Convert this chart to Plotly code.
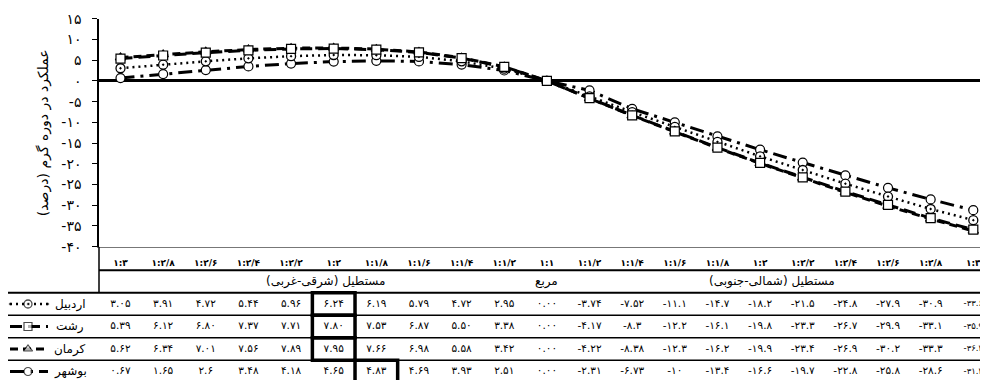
import plotly.graph_objects as go

# ---------------- data ----------------
categories = ["1:3", "1:2/8", "1:2/6", "1:2/4", "1:2/2", "1:2", "1:1/8", "1:1/6", "1:1/4", "1:1/2",
              "1:1",
              "1:1/2", "1:1/4", "1:1/6", "1:1/8", "1:2", "1:2/2", "1:2/4", "1:2/6", "1:2/8", "1:3"]

cities = ["اردبیل", "رشت", "کرمان", "بوشهر"]

ardabil = ["3.05", "3.91", "4.72", "5.44", "5.96", "6.24", "6.19", "5.79", "4.72", "2.95", "0.00",
           "-3.74", "-7.52", "-11.1", "-14.7", "-18.2", "-21.5", "-24.8", "-27.9", "-30.9", "-33.6"]
rasht = ["5.39", "6.12", "6.80", "7.37", "7.71", "7.80", "7.53", "6.87", "5.50", "3.38", "0.00",
         "-4.17", "-8.3", "-12.2", "-16.1", "-19.8", "-23.3", "-26.7", "-29.9", "-33.1", "-35.9"]
kerman = ["5.62", "6.34", "7.01", "7.56", "7.89", "7.95", "7.66", "6.98", "5.58", "3.42", "0.00",
          "-4.22", "-8.38", "-12.3", "-16.2", "-19.9", "-23.4", "-26.9", "-30.2", "-33.3", "-36.2"]
bushehr = ["0.67", "1.65", "2.6", "3.48", "4.18", "4.65", "4.83", "4.69", "3.93", "2.51", "0.00",
           "-2.31", "-6.73", "-10", "-13.4", "-16.6", "-19.7", "-22.8", "-25.8", "-28.6", "-31.2"]

groups = ["مستطیل (شرقی-غربی)", "مربع", "مستطیل (شمالی-جنوبی)"]

y_ticks = [15, 10, 5, 0, -5, -10, -15, -20, -25, -30, -35, -40]
y_title = "عملکرد در دوره گرم (درصد)"

# ---------------- helpers ----------------
FA = str.maketrans("0123456789", "۰۱۲۳۴۵۶۷۸۹")
RLM = "\u200f"


def fa(s):
    return str(s).translate(FA)


FONT = "DejaVu Sans"
OFF = 8                               # page body margin
W, H = 988 - OFF, 380 - OFF
x0_px, step_px = 120.5 - OFF, 42.64   # category centre / spacing in pixels (figure coords)
plot_top, plot_bot = 18.7 - OFF, 246.7 - OFF
row0_px, row_h = 304.0 - OFF, 22.5
axis_px = 99 - OFF


def px2x(p):
    return (p - OFF - x0_px) / step_px   # p given in page pixels


main_range = [(axis_px - x0_px) / step_px, (W - x0_px) / step_px]
tab_range = [(0 - x0_px) / step_px, (W - x0_px) / step_px]
tab_y_range = [(H - row0_px) / row_h, (plot_bot - row0_px) / row_h]

series = [
    dict(name=cities[0], vals=ardabil, dash="2px,4px", width=2.5,
         marker=dict(symbol="circle-dot", size=9, color="white", line=dict(color="black", width=1.3))),
    dict(name=cities[1], vals=rasht, dash="12px,6px", width=3,
         marker=dict(symbol="square", size=9, color="white", line=dict(color="black", width=1.2))),
    dict(name=cities[2], vals=kerman, dash="8px,5px", width=3,
         marker=dict(symbol="triangle-up", size=9, color="white", line=dict(color="black", width=1.2))),
    dict(name=cities[3], vals=bushehr, dash="14px,6px,3px,6px", width=3,
         marker=dict(symbol="circle", size=9, color="white", line=dict(color="black", width=1.2))),
]

xs = list(range(len(categories)))
fig = go.Figure()

# ---------------- chart lines ----------------
for s in [series[3], series[0], series[2], series[1]]:
    fig.add_trace(go.Scatter(
        x=xs, y=[float(v) for v in s["vals"]], mode="lines+markers",
        line=dict(color="black", width=s["width"], dash=s["dash"]),
        marker=s["marker"], cliponaxis=False, showlegend=False,
        xaxis="x", yaxis="y"))

# ---------------- table ----------------
# the last column sits at the page edge, so its text is set a little smaller to stay visible
cell_sizes = [10.5] * (len(xs) - 1) + [8.5]
for r, s in enumerate(series):
    fig.add_trace(go.Scatter(
        x=xs, y=[r] * len(xs), mode="text", text=[fa(v) for v in s["vals"]],
        textfont=dict(family=FONT, size=cell_sizes, color="black"),
        textposition="middle center", showlegend=False, cliponaxis=False,
        xaxis="x2", yaxis="y2"))
    # legend key
    kx = [px2x(10), px2x(28), px2x(48)]
    m = dict(s["marker"])
    m["size"] = [0, 8, 0]
    fig.add_trace(go.Scatter(
        x=kx, y=[r] * 3, mode="lines+markers",
        line=dict(color="black", width=s["width"], dash=s["dash"]),
        marker=m, showlegend=False, cliponaxis=False, xaxis="x2", yaxis="y2"))

annotations = []
for r, c in enumerate(cities):
    annotations.append(dict(x=px2x(70), y=r, xref="x2", yref="y2", text=c,
                            showarrow=False, font=dict(family=FONT, size=12, color="black")))
for g, gx in zip(groups, [4.8, 10, 15.27]):
    annotations.append(dict(x=gx, y=-1, xref="x2", yref="y2", text=g + RLM,
                            showarrow=False, font=dict(family=FONT, size=12, color="black")))
annotations.append(dict(x=(33 - OFF) / W, y=0.5, xref="paper", yref="y domain", text=y_title + RLM,
                        textangle=-90, showarrow=False, font=dict(family=FONT, size=14, color="black")))

shapes = []
# vertical extension of the value axis into the table
shapes.append(dict(type="line", xref="x domain", yref="y2", x0=0, x1=0, y0=tab_y_range[1], y1=-0.5,
                   line=dict(color="black", width=1.5)))
# line under category labels
shapes.append(dict(type="line", xref="x domain", yref="y2", x0=0, x1=1, y0=-1.5, y1=-1.5,
                   line=dict(color="black", width=2)))
# row separators
for yy, wdt in [(-0.5, 2), (0.5, 1.5), (1.5, 1.5), (2.5, 1.5)]:
    shapes.append(dict(type="line", xref="paper", yref="y2", x0=0, x1=1, y0=yy, y1=yy,
                       line=dict(color="black", width=wdt)))
# boxes around each row's maximum
for r, s in enumerate(series):
    v = [float(t) for t in s["vals"]]
    c = v.index(max(v))
    shapes.append(dict(type="rect", xref="x2", yref="y2", x0=c - 0.5, x1=c + 0.5,
                       y0=r - 0.5, y1=r + 0.5, line=dict(color="black", width=3.5)))

fig.update_layout(
    width=W, height=H, margin=dict(l=0, r=0, t=0, b=0),
    template="none", plot_bgcolor="white", paper_bgcolor="white",
    showlegend=False,
    xaxis=dict(domain=[axis_px / W, 1], range=main_range, tickmode="array", tickvals=xs,
               ticktext=[fa(c) for c in categories], ticks="", showgrid=False, zeroline=False,
               showline=True, linecolor="#777", linewidth=1, automargin=False,
               tickfont=dict(family=FONT, size=9, color="black", weight="bold"),
               ticklabelstandoff=7),
    yaxis=dict(domain=[1 - plot_bot / H, 1 - plot_top / H], range=[-40, 15], tickmode="array",
               tickvals=y_ticks, ticktext=[fa(t) for t in y_ticks], ticks="outside", ticklen=5,
               tickcolor="black", showgrid=False, zeroline=True, zerolinecolor="black",
               zerolinewidth=2.5, showline=True, linecolor="black", linewidth=1.5,
               automargin=False, tickfont=dict(family=FONT, size=14, color="black"),
               ticklabelstandoff=8),
    xaxis2=dict(domain=[0, 1], range=tab_range, visible=False, anchor="y2"),
    yaxis2=dict(domain=[0, 1 - plot_bot / H], range=tab_y_range, visible=False, anchor="x2"),
    annotations=annotations, shapes=shapes,
)

fig.write_html("out.html")
